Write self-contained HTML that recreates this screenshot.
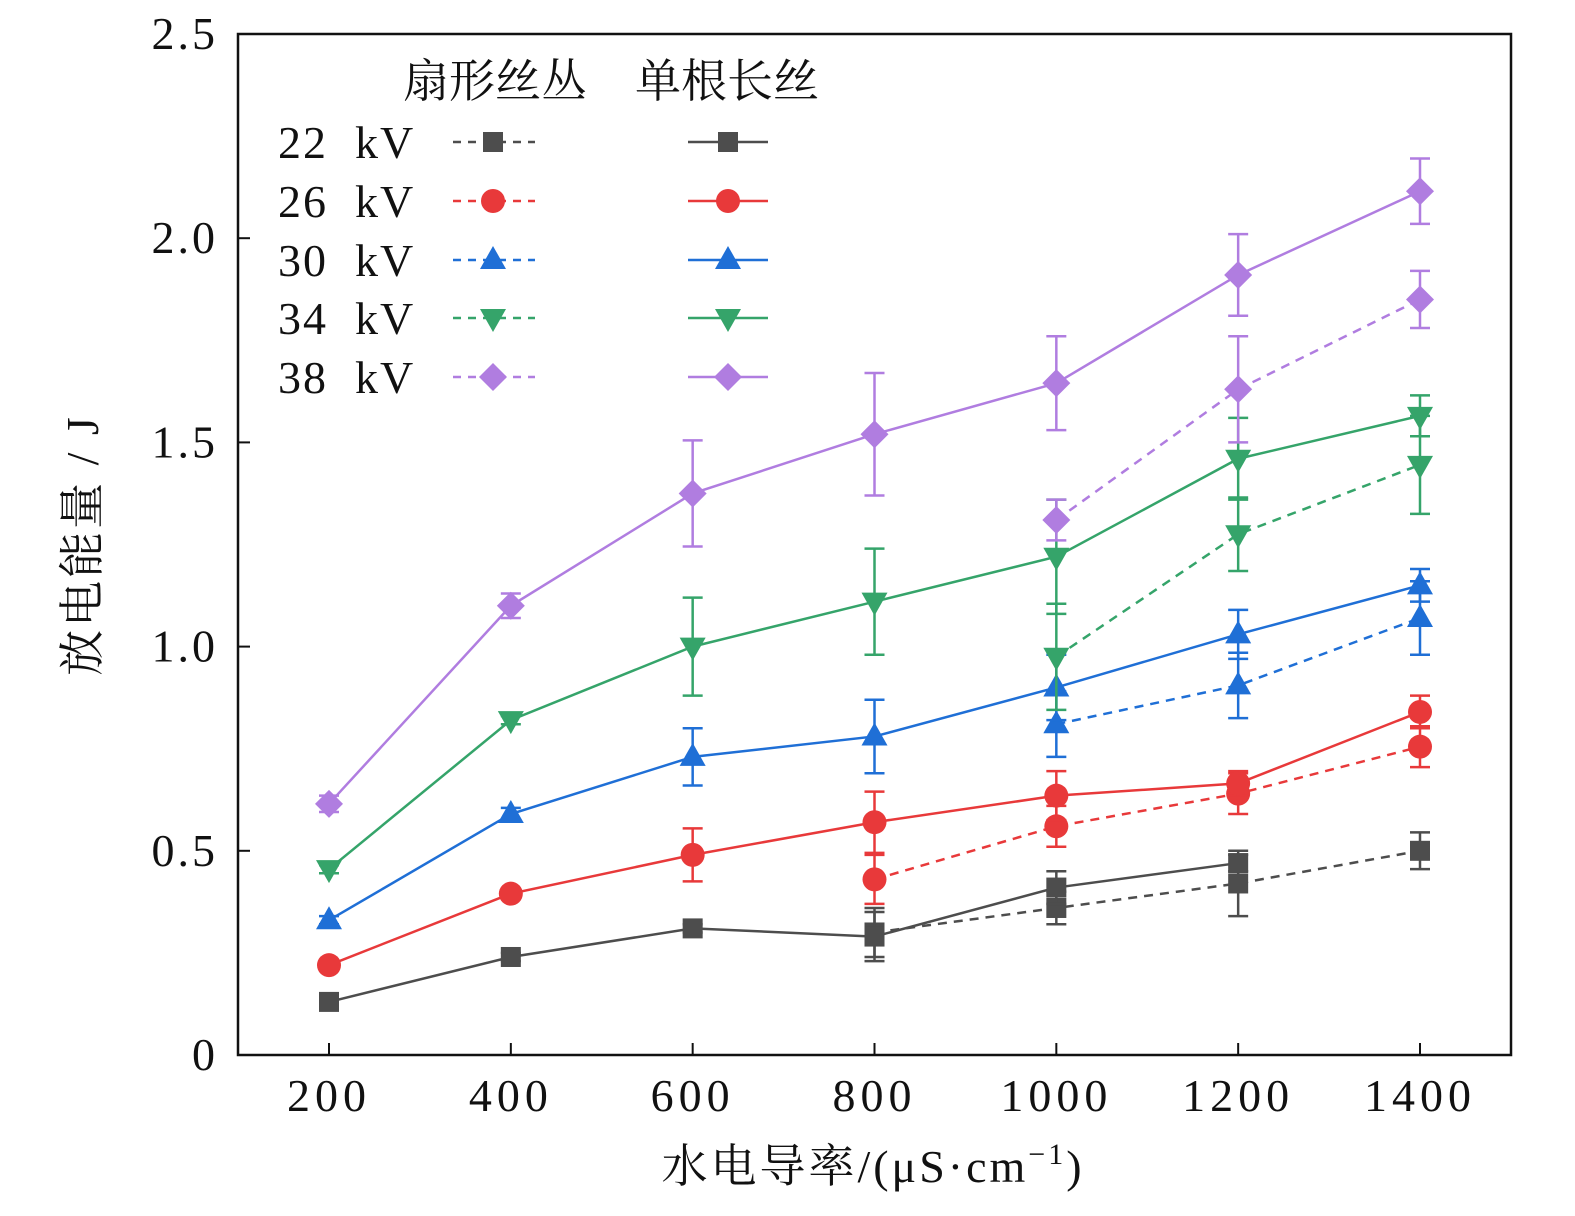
<!DOCTYPE html>
<html><head><meta charset="utf-8"><style>
body{margin:0;background:#fff}
svg text{font-family:"Liberation Serif","Noto Serif CJK SC",serif;fill:#111}
</style></head><body>
<svg id="c" width="1575" height="1211" xmlns="http://www.w3.org/2000/svg">
<g id="g"></g>
</svg>
<script>
const xCats=[200,400,600,800,1000,1200,1400];
const yTicks=[0,0.5,1.0,1.5,2.0,2.5];
const yTickLabels=["0","0.5","1.0","1.5","2.0","2.5"];
const seriesNames=["22 kV","26 kV","30 kV","34 kV","38 kV"];
const colors=["#4d4d4d","#e8393a","#1f6fd6","#35a46a","#b07de0"];
const markers=["square","circle","up","down","diamond"];
const solidX=[[200,400,600,800,1000,1200],[200,400,600,800,1000,1200,1400],[200,400,600,800,1000,1200,1400],[200,400,600,800,1000,1200,1400],[200,400,600,800,1000,1200,1400]];
const solidY=[[0.13,0.24,0.31,0.29,0.41,0.47],[0.22,0.395,0.49,0.57,0.635,0.665,0.84],[0.33,0.59,0.73,0.78,0.90,1.03,1.15],[0.455,0.82,1.00,1.11,1.22,1.46,1.565],[0.615,1.10,1.375,1.52,1.645,1.91,2.115]];
const solidErr=[[0.01,0.01,0.01,0.06,0.04,0.02],[0.01,0.01,0.065,0.075,0.06,0.03,0.04],[0.01,0.015,0.07,0.09,0.08,0.06,0.04],[0.01,0.01,0.12,0.13,0.14,0.1,0.05],[0.02,0.03,0.13,0.15,0.115,0.1,0.08]];
const dashX=[[800,1000,1200,1400],[800,1000,1200,1400],[1000,1200,1400],[1000,1200,1400],[1000,1200,1400]];
const dashY=[[0.30,0.36,0.42,0.50],[0.43,0.56,0.64,0.755],[0.81,0.905,1.07],[0.975,1.275,1.445],[1.31,1.63,1.85]];
const dashErr=[[0.06,0.04,0.08,0.045],[0.06,0.05,0.05,0.05],[0.08,0.08,0.09],[0.13,0.09,0.12],[0.05,0.13,0.07]];

const L=238,R=1511,T=34,B=1055;
const X=v=>329+(v-200)*(1420-329)/1200;
const Y=v=>B-v*(B-T)/2.5;
const NS="http://www.w3.org/2000/svg";
const g=document.getElementById('g');
function el(t,a,p){const e=document.createElementNS(NS,t);for(const k in a)e.setAttribute(k,a[k]);(p||g).appendChild(e);return e;}
function marker(type,x,y,c,p){
  let e;
  if(type==="square")e=el('rect',{x:x-10,y:y-10,width:20,height:20,fill:c},p);
  else if(type==="circle")e=el('circle',{cx:x,cy:y,r:12,fill:c},p);
  else if(type==="up")e=el('polygon',{points:`${x},${y-14} ${x+13},${y+9} ${x-13},${y+9}`,fill:c},p);
  else if(type==="down")e=el('polygon',{points:`${x},${y+14} ${x+13},${y-9} ${x-13},${y-9}`,fill:c},p);
  else e=el('polygon',{points:`${x},${y-14} ${x+14},${y} ${x},${y+14} ${x-14},${y}`,fill:c},p);
  return e;
}
const fr=el('rect',{x:L,y:T,width:R-L,height:B-T,fill:"none",stroke:"#111","stroke-width":2.5});


yTicks.forEach((v,i)=>{
  el('line',{x1:L,x2:L+12,y1:Y(v),y2:Y(v),stroke:"#111","stroke-width":2});
  const t=el('text',{x:L-20,y:Y(v)+15,"text-anchor":"end","font-size":46,"letter-spacing":3});
  t.textContent=yTickLabels[i];
  
  
});
xCats.forEach(v=>{
  el('line',{x1:X(v),x2:X(v),y1:B,y2:B-12,stroke:"#111","stroke-width":2});
  const t=el('text',{x:X(v),y:B+56,"text-anchor":"middle","font-size":46,"letter-spacing":5});
  t.textContent=v;
  
  
});
const yt=el('text',{x:0,y:0,"text-anchor":"middle","font-size":46,"letter-spacing":3,transform:"translate(98,545) rotate(-90)"});
yt.textContent="放电能量 / J";


const xt=el('text',{x:873,y:1182,"text-anchor":"middle","font-size":46,"letter-spacing":3});
xt.innerHTML='水电导率/(μS·cm<tspan dy="-18" font-size="30">−1</tspan><tspan dy="18">)</tspan>';



function drawSeries(xs,ys,es,c,m,dash,name){
  const sg=el('g',{});
  
  
  el('polyline',{points:xs.map((x,i)=>X(x)+","+Y(ys[i])).join(" "),fill:"none",stroke:c,"stroke-width":2.5,"stroke-dasharray":dash?"9 7":"none"},sg);
  xs.forEach((x,i)=>{
    const px=X(x),y1=Y(ys[i]+es[i]),y2=Y(ys[i]-es[i]);
    el('line',{x1:px,x2:px,y1:y1,y2:y2,stroke:c,"stroke-width":2.5},sg);
    el('line',{x1:px-10,x2:px+10,y1:y1,y2:y1,stroke:c,"stroke-width":2.5},sg);
    el('line',{x1:px-10,x2:px+10,y1:y2,y2:y2,stroke:c,"stroke-width":2.5},sg);
    marker(m,px,Y(ys[i]),c,sg);
  });
}
for(let s=0;s<5;s++){
  drawSeries(dashX[s],dashY[s],dashErr[s],colors[s],markers[s],true,"series-fan-"+seriesNames[s].replace(" ","").toLowerCase());
  drawSeries(solidX[s],solidY[s],solidErr[s],colors[s],markers[s],false,"series-single-"+seriesNames[s].replace(" ","").toLowerCase());
}
const lg=el('g',{});


const h1=el('text',{x:495,y:97,"text-anchor":"middle","font-size":46},lg);h1.textContent="扇形丝丛";
const h2=el('text',{x:727,y:97,"text-anchor":"middle","font-size":46},lg);h2.textContent="单根长丝";
const rows=[142,201,260,318,377];
for(let s=0;s<5;s++){
  const y=rows[s];
  const t=el('text',{x:278,y:y+16,"font-size":46,"letter-spacing":2},lg);
  t.textContent=seriesNames[s].replace(" ","\u00a0\u00a0");
  
  
  el('line',{x1:453,x2:535,y1:y,y2:y,stroke:colors[s],"stroke-width":2.5,"stroke-dasharray":"8 7"},lg);
  marker(markers[s],493,y,colors[s],lg);
  el('line',{x1:688,x2:768,y1:y,y2:y,stroke:colors[s],"stroke-width":2.5},lg);
  marker(markers[s],728,y,colors[s],lg);
}
</script>
</body></html>
